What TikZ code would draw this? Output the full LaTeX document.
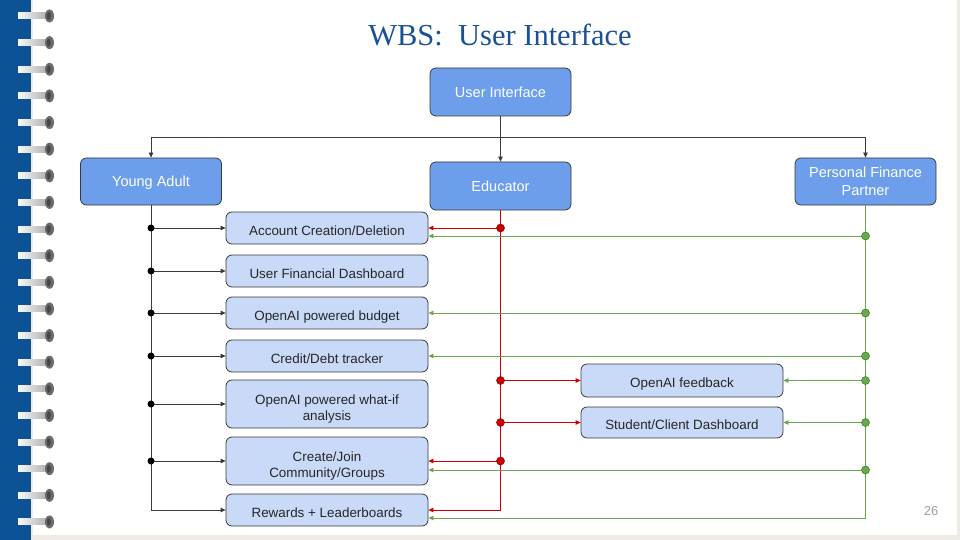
\documentclass[tikz,border=0pt]{standalone}
\usepackage{fontspec}
\setmainfont{Liberation Sans}
\newfontfamily\titlefont{Liberation Serif}
\usetikzlibrary{arrows.meta}
\definecolor{strip}{RGB}{11,83,148}
\definecolor{titleblue}{RGB}{24,82,148}
\definecolor{darkbox}{HTML}{6D9EEB}
\definecolor{lightbox}{HTML}{C9DAF8}
\definecolor{edgec}{HTML}{3A3A3A}
\definecolor{redl}{HTML}{CC0000}
\definecolor{redd}{HTML}{8E0000}
\definecolor{greenl}{HTML}{6AA84F}
\definecolor{greend}{HTML}{38761D}
\definecolor{pageedge}{HTML}{EDEBE4}
\tikzset{
  topbox/.style={draw=edgec, fill=darkbox, rounded corners=6pt, minimum width=141pt, minimum height=48pt, text=white, font=\fontsize{14.5}{17.6}\selectfont, align=center, line width=0.8pt, inner sep=1pt, text height=13.5pt, text depth=3pt},
  toptwo/.style={topbox, text height=30.6pt, text depth=3pt},
  subbox/.style={draw=edgec, fill=lightbox, rounded corners=6pt, minimum width=202pt, minimum height=32pt, text=black!85, font=\fontsize{13.4}{15.7}\selectfont, align=center, line width=0.8pt, inner sep=1pt, text height=17.6pt, text depth=3pt},
  subtwo/.style={subbox, minimum height=48pt, text height=35.6pt, text depth=3pt},
  tip/.style={-{Triangle[length=5pt,width=4.5pt]}},
  conn/.style={draw=edgec, line width=0.8pt},
  rconn/.style={draw=redl, line width=0.8pt},
  gconn/.style={draw=greenl, line width=0.8pt},
  bdot/.style={fill=black},
  rdot/.style={fill=redl, draw=redd, line width=0.5pt},
  gdot/.style={fill=greenl, draw=greend, line width=0.5pt},
}
\begin{document}
\begin{tikzpicture}[x=1pt,y=-1pt]
\useasboundingbox (0,0) rectangle (960,540);
% page
\fill[white] (0,0) rectangle (960,540);
\fill[pageedge] (0,535) rectangle (960,540);
\fill[pageedge] (957,0) rectangle (960,540);
\fill[strip] (0,0) rectangle (30.5,540);
\fill[pageedge] (30.5,0) rectangle (33,540);
% rings
\foreach \i in {0,...,19}{
  \pgfmathsetmacro\yy{16+26.63*\i}
  \shade[left color=gray!5, right color=gray!60] (18,\yy-3) rectangle (46,\yy+3);
  \fill[gray!85!black] (49.5,\yy) ellipse (4.5 and 6.5);
  \fill[gray!55!black] (48.8,\yy) ellipse (2 and 4);
}
% title
\node[font=\titlefont\fontsize{30.5}{34}\selectfont, text=titleblue] (title) at (500,35) {WBS:\ \ User Interface};
% top level
\node[topbox] (ui) at (500.5,92) {User Interface};
\node[topbox, minimum height=47pt] (ya) at (151,181.5) {Young Adult};
\node[topbox] (edu) at (500.5,186) {Educator};
\node[toptwo, minimum height=47pt] (pfp) at (865.5,181.5) {Personal Finance\\Partner};
% sub boxes
\node[subbox] (acc) at (327,228) {Account Creation/Deletion};
\node[subbox] (ufd) at (327,271) {User Financial Dashboard};
\node[subbox] (bud) at (327,313) {OpenAI powered budget};
\node[subbox] (cdt) at (327,356) {Credit/Debt tracker};
\node[subtwo] (wif) at (327,404) {OpenAI powered what-if\\analysis};
\node[subtwo] (cjg) at (327,461) {Create/Join\\Community/Groups};
\node[subbox] (rwd) at (327,510) {Rewards + Leaderboards};
\node[subbox, minimum height=33pt] (oaf) at (682,380.5) {OpenAI feedback};
\node[subbox, minimum height=31pt] (scd) at (682,422.5) {Student/Client Dashboard};
% green entry points (offset below the red ones)
\coordinate (accG) at ([yshift=-8pt]acc.east);
\coordinate (cjgG) at ([yshift=-9pt]cjg.east);
\coordinate (rwdG) at ([yshift=-8pt]rwd.east);
% bus
\coordinate (busM) at (500.5,137);
\coordinate (busL) at (151,137);
\coordinate (busR) at (865.5,137);
\draw[conn] (ui.south) -- (busM);
\draw[conn] (busL) -- (busR);
\draw[conn,tip] (busM) -- (edu.north);
\draw[conn,tip] (busL) -- (ya.north);
\draw[conn,tip] (busR) -- (pfp.north);
% young adult
\draw[conn,tip] (ya.south) |- (rwd.west);
\foreach \n in {acc,ufd,bud,cdt,wif,cjg}{
  \draw[conn,tip] (ya.south |- \n.west) -- (\n.west);
  \fill[bdot] (ya.south |- \n.west) circle (3.5);
}
% educator
\draw[rconn,tip] (edu.south) |- (rwd.east);
\foreach \n in {acc,cjg}{
  \draw[rconn,tip] (edu.south |- \n.east) -- (\n.east);
  \draw[rdot] (edu.south |- \n.east) circle (4);
}
\foreach \n in {oaf,scd}{
  \draw[rconn,tip] (edu.south |- \n.west) -- (\n.west);
  \draw[rdot] (edu.south |- \n.west) circle (4);
}
% personal finance partner
\draw[gconn,tip] (pfp.south) |- (rwdG);
\foreach \n in {accG,cjgG}{
  \draw[gconn,tip] (pfp.south |- \n) -- (\n);
  \draw[gdot] (pfp.south |- \n) circle (4);
}
\foreach \n in {bud,cdt,oaf,scd}{
  \draw[gconn,tip] (pfp.south |- \n.east) -- (\n.east);
  \draw[gdot] (pfp.south |- \n.east) circle (4);
}
% page number
\node[font=\fontsize{13}{15}\selectfont, text=gray!75] (pnum) at (931,511) {26};
\end{tikzpicture}
\end{document}
